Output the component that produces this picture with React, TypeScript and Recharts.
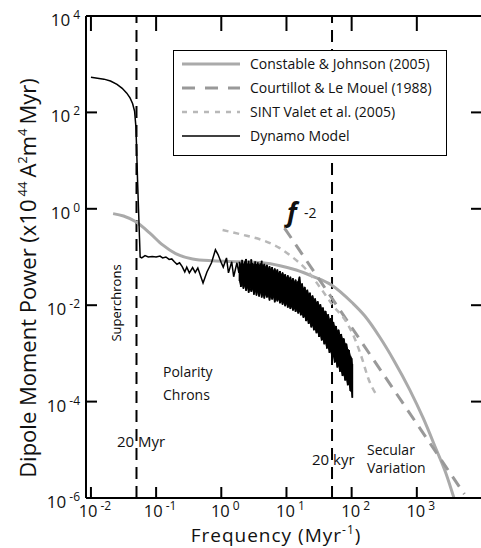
import React from "react";
import {
  ComposedChart,
  Line,
  Area,
  XAxis,
  YAxis,
  ReferenceLine,
  Legend,
  Customized,
} from "recharts";

// all series kept as [log10 f, log10 P]
const constableLog = [
  [-1.66, -0.1], [-1.5, -0.15], [-1.31, -0.27], [-1.1, -0.5], [-0.9, -0.75],
  [-0.7, -0.93], [-0.44, -1.04], [-0.13, -1.08], [0.3, -1.1], [0.63, -1.12],
  [0.9, -1.18], [1.15, -1.27], [1.4, -1.4], [1.69, -1.58], [2.01, -1.95],
  [2.2, -2.22], [2.43, -2.66], [2.65, -3.15], [2.89, -3.75], [3.1, -4.35],
  [3.3, -5.0], [3.45, -5.5], [3.57, -6.0],
];

const courtillotLog = [
  [0.97, -0.4], [1.7, -1.86], [2.5, -3.46], [3.73, -5.92],
];

const sintLog = [
  [0.02, -0.44], [0.39, -0.56], [0.63, -0.65], [0.89, -0.81], [1.05, -0.96],
  [1.31, -1.27], [1.51, -1.62], [1.71, -2.0], [1.92, -2.35], [2.05, -2.7],
  [2.17, -3.15], [2.25, -3.5], [2.4, -3.9],
];

const dynamoLog = [
  [-2.0, 2.73], [-1.9, 2.71], [-1.8, 2.69], [-1.7, 2.65], [-1.6, 2.58],
  [-1.52, 2.5], [-1.45, 2.4], [-1.4, 2.3], [-1.36, 2.18], [-1.33, 2.02],
  [-1.31, 1.7], [-1.3, 1.3], [-1.285, 0.6], [-1.27, 0.0], [-1.255, -0.6],
  [-1.245, -1.0], [-1.22, -1.02], [-1.17, -0.97], [-1.12, -1.0], [-1.06, -0.99],
  [-1.0, -1.0], [-0.94, -0.98], [-0.9, -1.02], [-0.85, -1.0], [-0.8, -1.05],
  [-0.76, -1.04], [-0.72, -1.1], [-0.68, -1.15], [-0.64, -1.12], [-0.6, -1.2],
  [-0.56, -1.31], [-0.53, -1.21], [-0.49, -1.33], [-0.44, -1.22], [-0.4, -1.32],
  [-0.36, -1.23], [-0.28, -1.54], [-0.22, -1.31], [-0.15, -1.12], [-0.09, -0.85],
  [-0.05, -0.95], [0.0, -1.12], [0.03, -1.21], [0.08, -1.02], [0.11, -1.33],
  [0.16, -1.1], [0.19, -1.41], [0.24, -1.12], [0.27, -1.33], [0.28, -1.2],
];

// noisy high-frequency part: [log10 f, upper edge, lower edge]
const bandLog = [
  [0.28, -1.1, -1.5], [0.3, -1.16, -1.62], [0.32, -1.06, -1.55], [0.34, -1.15, -1.66],
  [0.36, -1.09, -1.58], [0.38, -1.04, -1.7], [0.4, -1.14, -1.62], [0.42, -1.08, -1.74],
  [0.44, -1.17, -1.64], [0.46, -1.05, -1.72], [0.48, -1.12, -1.66], [0.5, -1.18, -1.78],
  [0.52, -1.09, -1.68], [0.54, -1.16, -1.8], [0.56, -1.11, -1.7], [0.58, -1.2, -1.82],
  [0.6, -1.13, -1.72], [0.62, -1.08, -1.84], [0.64, -1.19, -1.74], [0.66, -1.14, -1.86],
  [0.68, -1.22, -1.76], [0.7, -1.16, -1.84], [0.72, -1.25, -1.78], [0.74, -1.19, -1.9],
  [0.76, -1.28, -1.8], [0.78, -1.21, -1.88], [0.8, -1.3, -1.82], [0.82, -1.24, -1.94],
  [0.84, -1.32, -1.85], [0.86, -1.26, -1.92], [0.88, -1.35, -1.87], [0.9, -1.29, -1.96],
  [0.92, -1.38, -1.9], [0.94, -1.32, -1.99], [0.96, -1.4, -1.92], [0.98, -1.36, -2.02],
  [1.0, -1.44, -1.96], [1.02, -1.38, -2.05], [1.04, -1.47, -1.99], [1.06, -1.41, -2.08],
  [1.08, -1.5, -2.02], [1.1, -1.44, -2.11], [1.12, -1.53, -2.05], [1.14, -1.47, -2.14],
  [1.16, -1.56, -2.08], [1.18, -1.5, -2.17], [1.2, -1.41, -2.12], [1.22, -1.58, -2.21],
  [1.24, -1.55, -2.16], [1.26, -1.66, -2.26], [1.28, -1.62, -2.22], [1.3, -1.72, -2.33],
  [1.32, -1.68, -2.28], [1.34, -1.78, -2.39], [1.36, -1.74, -2.34], [1.38, -1.84, -2.46],
  [1.4, -1.8, -2.41], [1.42, -1.89, -2.52], [1.44, -1.86, -2.48], [1.46, -1.95, -2.58],
  [1.48, -1.92, -2.55], [1.5, -2.01, -2.66], [1.52, -1.98, -2.62], [1.54, -2.08, -2.73],
  [1.56, -2.05, -2.7], [1.58, -2.14, -2.81], [1.6, -2.12, -2.78], [1.62, -2.22, -2.9],
  [1.64, -2.19, -2.86], [1.66, -2.3, -2.99], [1.68, -2.27, -2.95], [1.7, -2.37, -3.09],
  [1.72, -2.35, -3.05], [1.74, -2.45, -3.19], [1.76, -2.43, -3.15], [1.78, -2.53, -3.29],
  [1.8, -2.51, -3.25], [1.82, -2.62, -3.38], [1.84, -2.6, -3.35], [1.86, -2.7, -3.47],
  [1.88, -2.69, -3.44], [1.9, -2.8, -3.56], [1.92, -2.8, -3.53], [1.94, -2.92, -3.66],
  [1.96, -2.93, -3.63], [1.98, -3.05, -3.78], [2.0, -3.1, -3.8], [2.01, -3.22, -3.92],
];

const xTickExps = [-2, -1, 0, 1, 2, 3];
const yTickExps = [-6, -4, -2, 0, 2, 4];
const markerLines = [0.05, 50]; // 20 Myr and 20 kyr

const legendItems = [
  { name: "Constable & Johnson (2005)", color: "#aaaaaa", width: 3, dash: undefined },
  { name: "Courtillot & Le Mouel (1988)", color: "#999999", width: 3, dash: "13 10" },
  { name: "SINT Valet et al. (2005)", color: "#b8b8b8", width: 2.5, dash: "5 6" },
  { name: "Dynamo Model", color: "#000000", width: 1.5, dash: undefined },
];

const toPts = (arr) => arr.map(([a, b]) => ({ f: 10 ** a, p: 10 ** b }));
const constable = toPts(constableLog);
const courtillot = toPts(courtillotLog);
const sint = toPts(sintLog);
const dynamo = toPts(dynamoLog);
const band = bandLog.map(([a, hi, lo]) => ({ f: 10 ** a, lo: 10 ** lo, hi: 10 ** hi }));
// same band walked top-bottom-top so the noisy trace looks scribbled
const scribble = bandLog.flatMap(([a, hi, lo]) => [
  { f: 10 ** a, p: 10 ** hi },
  { f: 10 ** a, p: 10 ** lo },
]);

const xTicks = xTickExps.map((e) => 10 ** e);
const yTicks = yTickExps.map((e) => 10 ** e);

const FONT = "'Open Sans', sans-serif";

const expOf = (v) => Math.round(Math.log10(v));

const BottomTick = ({ x, y, payload }) => (
  <g>
    <line x1={x} y1={y} x2={x} y2={y - 11} stroke="#000" strokeWidth={2} />
    <text x={x + 4} y={y + 19} textAnchor="middle" fontSize={16.5} fontFamily={FONT} fill="#111">
      10<tspan dx={3} dy={-7} fontSize={12}>{expOf(payload.value)}</tspan>
    </text>
  </g>
);

const TopTick = ({ x, y }) => (
  <line x1={x} y1={y} x2={x} y2={y + 15} stroke="#000" strokeWidth={2} />
);

const LeftTick = ({ x, y, payload }) => (
  <g>
    <line x1={x} y1={y} x2={x + 11} y2={y} stroke="#000" strokeWidth={2} />
    <text x={x - 6} y={y + 10} textAnchor="end" fontSize={17} fontFamily={FONT} fill="#111">
      10<tspan dx={3} dy={-7} fontSize={12}>{expOf(payload.value)}</tspan>
    </text>
  </g>
);

const RightTick = ({ x, y }) => (
  <line x1={x} y1={y} x2={x - 11} y2={y} stroke="#000" strokeWidth={2} />
);

const LegendBox = () => (
  <svg width={274} height={106} style={{ display: "block" }}>
    <rect x={0.5} y={0.5} width={273} height={105} fill="#fff" stroke="#000" strokeWidth={1} />
    {legendItems.map((it, i) => {
      const cy = 14 + i * 24;
      return (
        <g key={it.name}>
          <line x1={9} x2={67} y1={cy} y2={cy} stroke={it.color} strokeWidth={it.width} strokeDasharray={it.dash} />
          <text x={77} y={cy + 5} fontSize={14} fontFamily={FONT} fill="#111">{it.name}</text>
        </g>
      );
    })}
  </svg>
);

const Notes = () => (
  <g fontFamily={FONT} fill="#111">
    <text transform="translate(36,278) rotate(-90)" textAnchor="middle" fontSize={22}>
      Dipole Moment Power (x10<tspan dx={3} dy={-9} fontSize={13}>44</tspan>
      <tspan dx={4} dy={9}>A</tspan>
      <tspan dy={-9} fontSize={13}>2</tspan>
      <tspan dy={9}>m</tspan>
      <tspan dy={-9} fontSize={13}>4</tspan>
      <tspan dx={4} dy={9}>Myr)</tspan>
    </text>
    <text x={276} y={542} textAnchor="middle" fontSize={19} letterSpacing={1}>
      Frequency  (Myr<tspan dy={-8} fontSize={12}>-1</tspan>
      <tspan dy={8}>)</tspan>
    </text>
    <text transform="translate(121,303) rotate(-90)" textAnchor="middle" fontSize={13} fill="#000">Superchrons</text>
    <text x={163} y={377} fontSize={14}>Polarity</text>
    <text x={163} y={400} fontSize={14}>Chrons</text>
    <text x={117} y={447} fontSize={15}>20 Myr</text>
    <text x={312} y={465} fontSize={15}>20 kyr</text>
    <text x={367} y={455} fontSize={14}>Secular</text>
    <text x={367} y={473} fontSize={14}>Variation</text>
    <text x={287} y={222} fontSize={26} fontStyle="italic" fontWeight="bold">f</text>
    <text x={304} y={218} fontSize={14}>-2</text>
  </g>
);

export default function App() {
  const xDomain = [0.0084, 10000];
  const yDomain = [1e-6, 1e4];
  return (
    <div style={{ position: "absolute", left: 0, top: 0, width: 481, height: 548, overflow: "hidden", background: "#fff" }}>
      <ComposedChart width={484} height={548} margin={{ top: 0, right: 0, bottom: 0, left: 0 }}>
        <XAxis
          dataKey="f" type="number" scale="log" domain={xDomain} allowDataOverflow
          ticks={xTicks} interval={0} height={50} tickSize={0} tickMargin={0}
          tickLine={false} tick={BottomTick} axisLine={{ stroke: "#000", strokeWidth: 2 }}
        />
        <XAxis
          xAxisId="top" orientation="top" dataKey="f" type="number" scale="log" domain={xDomain}
          allowDataOverflow ticks={xTicks} interval={0} height={16} tickSize={0} tickMargin={0}
          tickLine={false} tick={TopTick} axisLine={{ stroke: "#000", strokeWidth: 2 }}
        />
        <YAxis
          type="number" scale="log" domain={yDomain} allowDataOverflow ticks={yTicks} interval={0}
          width={86} tickSize={0} tickMargin={0} tickLine={false} tick={LeftTick}
          axisLine={{ stroke: "#000", strokeWidth: 2 }}
        />
        <YAxis
          yAxisId="right" orientation="right" type="number" scale="log" domain={yDomain}
          allowDataOverflow ticks={yTicks} interval={0} width={2} tickSize={0} tickMargin={0}
          tickLine={false} tick={RightTick} axisLine={{ stroke: "#000", strokeWidth: 2 }}
        />
        {markerLines.map((v) => (
          <ReferenceLine key={v} x={v} stroke="#000" strokeWidth={2} strokeDasharray="12 7" />
        ))}
        <Line data={constable} dataKey="p" type="monotone" stroke="#aaaaaa" strokeWidth={3} dot={false} isAnimationActive={false} />
        <Line data={courtillot} dataKey="p" type="linear" stroke="#999999" strokeWidth={3} strokeDasharray="12 8" dot={false} isAnimationActive={false} />
        <Line data={sint} dataKey="p" type="monotone" stroke="#b8b8b8" strokeWidth={2.5} strokeDasharray="6 5" dot={false} isAnimationActive={false} />
        <Line data={dynamo} dataKey="p" type="linear" stroke="#000" strokeWidth={1.5} dot={false} isAnimationActive={false} />
        <Area
          data={band} dataKey={(d) => [d.lo, d.hi]} type="linear" stroke="#000" strokeWidth={1}
          fill="#000" fillOpacity={1} isAnimationActive={false}
        />
        <Line data={scribble} dataKey="p" type="linear" stroke="#000" strokeWidth={1.8} dot={false} isAnimationActive={false} />
        <Customized component={Notes} />
        <Legend
          content={LegendBox} layout="horizontal" verticalAlign="middle" align="center"
          wrapperStyle={{ left: 173, top: 50, width: 274, height: 106 }}
        />
      </ComposedChart>
    </div>
  );
}
